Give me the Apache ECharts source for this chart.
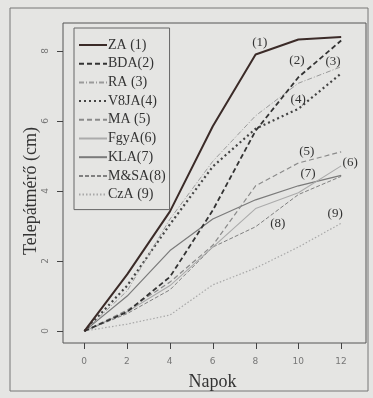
<!DOCTYPE html>
<html>
<head>
<meta charset="utf-8">
<script src="https://cdn.jsdelivr.net/npm/echarts@6/dist/echarts.min.js"></script>
<style>
html, body { margin: 0; padding: 0; background: #e5e5e3; }
#c { width: 373px; height: 398px; }
</style>
</head>
<body>
<div id="c"></div>
<script>
var chart = echarts.init(document.getElementById('c'));

// napok (days)
var days = [0, 2, 4, 6, 8, 10, 12];
var xTicks = [0, 2, 4, 6, 8, 10, 12];
var yTicks = [0, 2, 4, 6, 8];

var names = ['ZA (1)', 'BDA(2)', 'RA (3)', 'V8JA(4)', 'MA (5)', 'FgyA(6)', 'KLA(7)', 'M&SA(8)', 'CzA (9)'];

var za   = [0, 1.62, 3.42, 5.85, 7.9, 8.33, 8.4];
var bda  = [0, 0.55, 1.55, 3.45, 5.72, 7.25, 8.3];
var ra   = [0, 1.15, 3.2, 4.85, 6.15, 7.08, 7.55];
var v8ja = [0, 1.3, 3.05, 4.7, 5.78, 6.35, 7.36];
var ma   = [0, 0.6, 1.4, 2.45, 4.15, 4.8, 5.12];
var fgya = [0, 0.55, 1.3, 2.4, 3.5, 3.95, 4.72];
var kla  = [0, 1.0, 2.3, 3.2, 3.75, 4.15, 4.45];
var msa  = [0, 0.5, 1.18, 2.4, 2.98, 3.9, 4.42];
var cza  = [0, 0.2, 0.46, 1.32, 1.8, 2.4, 3.08];

// label positions in data units
var tags = ['(1)', '(2)', '(3)', '(4)', '(5)', '(6)', '(7)', '(8)', '(9)'];
var tagX = [8.2, 9.93, 11.62, 9.99, 10.39, 12.42, 10.45, 9.04, 11.72];
var tagY = [8.24, 7.74, 7.69, 6.6, 5.12, 4.8, 4.51, 3.06, 3.37];

var X_MIN = -1, X_MAX = 13.16, Y_MIN = -0.34, Y_MAX = 8.8;

var allData = [za, bda, ra, v8ja, ma, fgya, kla, msa, cza];
var styles = [
    { color: '#3b2b28', width: 2, type: 'solid' },
    { color: '#333333', width: 1.8, type: [5, 3] },
    { color: '#9a9a9a', width: 1, type: [5, 2, 1, 2] },
    { color: '#444444', width: 2.2, type: [2, 3] },
    { color: '#8a8a8a', width: 1.2, type: [5, 3] },
    { color: '#ababab', width: 1.1, type: 'solid' },
    { color: '#7a7a7a', width: 1.2, type: 'solid' },
    { color: '#808080', width: 1, type: [4, 2] },
    { color: '#a8a8a8', width: 1.2, type: [1.5, 2] }
];

var series = [];
for (var i = 0; i < names.length; i++) {
    var pts = [];
    for (var j = 0; j < days.length; j++) pts.push([days[j], allData[i][j]]);
    series.push({
        name: names[i],
        type: 'line',
        data: pts,
        symbol: 'none',
        clip: false,
        lineStyle: styles[i],
        itemStyle: { color: styles[i].color },
        z: 10 - i,
        markPoint: {
            symbol: 'circle',
            symbolSize: 0,
            label: {
                show: true,
                position: 'inside',
                formatter: tags[i],
                fontFamily: 'Liberation Serif',
                fontSize: 13,
                color: '#333'
            },
            data: [{ coord: [tagX[i], tagY[i]] }]
        }
    });
}

var off = { show: false };

var option = {
    backgroundColor: '#e5e5e3',
    animation: false,
    grid: [
        // plot box, holds the data
        { left: 63, top: 23, width: 303, height: 320, show: true, borderColor: '#555', borderWidth: 1, backgroundColor: 'transparent' },
        // label strip under the box, 0..12
        { left: 84, top: 343, width: 257, height: 5 },
        // label strip left of the box, 0..8
        { left: 58, top: 51, width: 5, height: 280 }
    ],
    legend: {
        orient: 'vertical',
        left: 74, top: 28,
        width: 93,
        padding: [10, 4, 8, 4],
        borderColor: '#666', borderWidth: 1,
        itemWidth: 28, itemHeight: 10,
        itemGap: 4.7,
        itemStyle: { opacity: 0 },
        textStyle: { fontFamily: 'Liberation Serif', fontSize: 14, lineHeight: 14, color: '#333', padding: [0, 0, 0, -4] },
        data: names
    },
    xAxis: [
        { gridIndex: 0, type: 'value', min: X_MIN, max: X_MAX, show: false },
        {
            gridIndex: 1,
            type: 'value',
            min: 0, max: 12, interval: 2,
            name: 'Napok',
            nameLocation: 'middle',
            nameGap: 25,
            nameTextStyle: { fontFamily: 'Liberation Serif', fontSize: 18, color: '#333' },
            splitLine: off,
            axisLine: off,
            axisTick: off,
            axisLabel: { margin: 9, fontSize: 9, color: '#777', fontFamily: 'DejaVu Sans' }
        },
        { gridIndex: 2, type: 'value', show: false }
    ],
    yAxis: [
        { gridIndex: 0, type: 'value', min: Y_MIN, max: Y_MAX, show: false },
        { gridIndex: 1, type: 'value', show: false },
        {
            gridIndex: 2,
            type: 'value',
            min: 0, max: 8, interval: 2,
            name: 'Telepátmérő (cm)',
            nameLocation: 'middle',
            nameGap: 13,
            nameTextStyle: { fontFamily: 'Liberation Serif', fontSize: 18, color: '#333' },
            splitLine: off,
            axisLine: off,
            axisTick: off,
            axisLabel: { margin: 8, rotate: 90, fontSize: 9, color: '#777', fontFamily: 'DejaVu Sans' }
        }
    ],
    series: series
};

chart.setOption(option);

// frame and R-style outward ticks, tick positions taken from the data scale
var g = [{
    type: 'rect',
    shape: { x: 10, y: 8, width: 358, height: 383 },
    style: { fill: 'none', stroke: '#777', lineWidth: 1 },
    silent: true
}];
xTicks.forEach(function (v) {
    var p = chart.convertToPixel({ gridIndex: 0 }, [v, Y_MIN]);
    var x = Math.round(p[0]) + 0.5;
    g.push({ type: 'line', silent: true, z: 100,
        shape: { x1: x, y1: p[1], x2: x, y2: p[1] + 6 },
        style: { stroke: '#444', lineWidth: 1 } });
});
yTicks.forEach(function (v) {
    var p = chart.convertToPixel({ gridIndex: 0 }, [X_MIN, v]);
    var y = Math.round(p[1]) + 0.5;
    g.push({ type: 'line', silent: true, z: 100,
        shape: { x1: p[0] - 6, y1: y, x2: p[0], y2: y },
        style: { stroke: '#444', lineWidth: 1 } });
});
chart.setOption({ graphic: g });
</script>
</body>
</html>
